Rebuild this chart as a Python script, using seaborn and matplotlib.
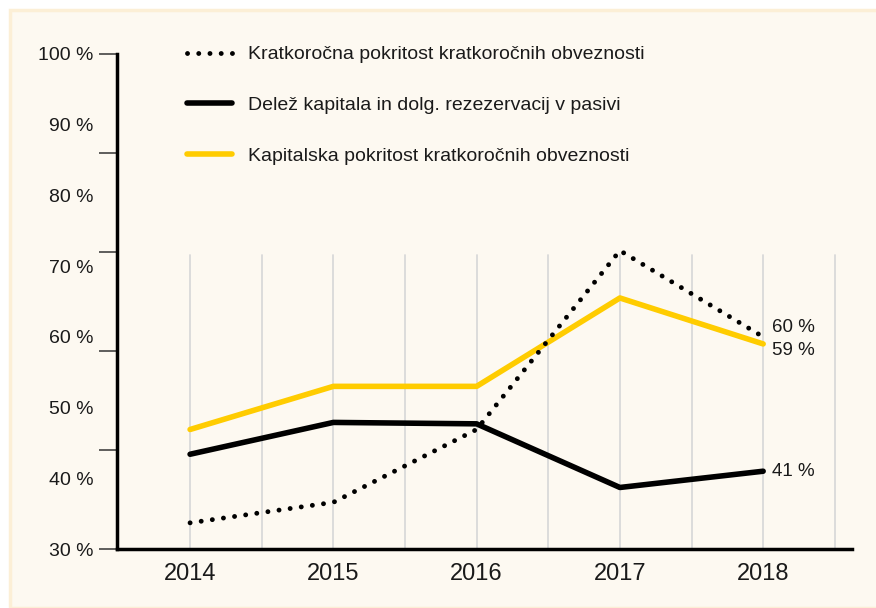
import numpy as np
import pandas as pd
import seaborn as sns
import matplotlib.pyplot as plt
from matplotlib.patches import Rectangle

# Podatki (odčitani z grafa)
leta = [2014, 2015, 2016, 2017, 2018]
kratkorocna = [33.7, 36.6, 46.9, 72.2, 60.0]
delez = [43.4, 47.9, 47.7, 38.7, 41.0]
kapitalska = [46.9, 53.0, 53.0, 65.5, 59.0]
oznake = ['Kratkoročna pokritost kratkoročnih obveznosti',
          'Delež kapitala in dolg. rezezervacij v pasivi',
          'Kapitalska pokritost kratkoročnih obveznosti']
y_oznake = [100, 90, 80, 70, 60, 50, 40, 30]
koncne = ['60 %', '59 %', '41 %']

sns.set_theme(style='white')
plt.rcParams['font.family'] = ['Liberation Sans Narrow', 'Liberation Sans', 'DejaVu Sans']
tekst = '#1a1a1a'

fig = plt.figure(figsize=(8.76, 6.08), dpi=100, facecolor='white')
# kremno ozadje z robom
fig.patches.append(Rectangle((10/876, 0), 1, 1 - 10/608, transform=fig.transFigure,
                             facecolor='#fdf9f1', edgecolor='#fcefd6', linewidth=2.5,
                             zorder=-10))
ax = fig.add_axes([117/876, 59/608, (852 - 117)/876, (549 - 54)/608])
ax.set_facecolor('none')

# navpične mreže (na pol leta)
for xg in np.arange(2014, 2018.6, 0.5):
    ax.plot([xg, xg], [30, 71.6], color='#d9d9d9', lw=1.3, zorder=1)

sns.lineplot(x=leta, y=delez, ax=ax, color='black', lw=4, label=oznake[1],
             solid_capstyle='round', zorder=3)
sns.lineplot(x=leta, y=kapitalska, ax=ax, color='#ffcc00', lw=4, label=oznake[2],
             solid_capstyle='round', zorder=3)
sns.lineplot(x=leta, y=kratkorocna, ax=ax, color='black', lw=3.5, label=oznake[0],
             dashes=(0.01, 2.3), dash_capstyle='round', zorder=4)

ax.set_xlim(2013.49, 2018.62)
ax.set_ylim(30, 100)

# glavne oznake brez napisov, pomožne z napisi
ax.yaxis.remove_overlapping_locs = False
ax.set_yticks(np.linspace(30, 100, 6))
ax.set_yticklabels([])
ax.tick_params(axis='y', which='major', left=True, length=13, width=1.1,
               color='#333333', direction='out')
ax.set_yticks(y_oznake, minor=True)
ax.set_yticklabels([f'{v} %' for v in y_oznake], minor=True)
ax.tick_params(axis='y', which='minor', left=True, length=0, pad=17,
               labelsize=14, labelcolor=tekst)
ax.set_xticks(leta)
ax.set_xticklabels([str(l) for l in leta])
ax.tick_params(axis='x', length=0, pad=10, labelsize=17, labelcolor=tekst)
ax.set_xlabel('')
ax.set_ylabel('')

sns.despine(ax=ax)
for s in ['left', 'bottom']:
    ax.spines[s].set_linewidth(2.5)
    ax.spines[s].set_color('black')

# končne vrednosti
ax.annotate(koncne[0], (leta[-1], kratkorocna[-1]), xytext=(6, 7),
            textcoords='offset points', va='center', fontsize=13.5, color=tekst)
ax.annotate(koncne[1], (leta[-1], kapitalska[-1]), xytext=(6, -5),
            textcoords='offset points', va='center', fontsize=13.5, color=tekst)
ax.annotate(koncne[2], (leta[-1], delez[-1]), xytext=(6, 0),
            textcoords='offset points', va='center', fontsize=13.5, color=tekst)

h, l = ax.get_legend_handles_labels()
red = [l.index(o) for o in oznake]
leg = ax.legend([h[i] for i in red], [l[i] for i in red], loc='upper left',
                bbox_to_anchor=(179/876, 1 - 38/608), bbox_transform=fig.transFigure,
                frameon=False, fontsize=14, handlelength=2.3, handletextpad=0.85,
                labelspacing=1.7, borderaxespad=0)
for t in leg.get_texts():
    t.set_color(tekst)

fig.savefig('out.png', dpi=100, facecolor='white')
